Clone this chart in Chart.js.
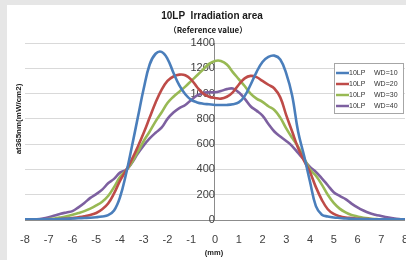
<!DOCTYPE html>
<html>
<head>
<meta charset="utf-8">
<script src="https://cdn.jsdelivr.net/npm/chart.js@4"></script>
<style>
  html, body { margin: 0; padding: 0; background: #e6e6e6; overflow: hidden; }
  #wrap { position: absolute; left: 7px; top: 5px; width: 406px; height: 255px; background: #fff; }
</style>
</head>
<body>
<div id="wrap"><canvas id="chart" width="406" height="255"></canvas></div>
<script>
// position (mm), every 0.25 mm from -8 to 8
const positions = [];
for (let i = 0; i <= 64; i++) positions.push(-8 + i * 0.25);

const seriesNames = ['10LP   WD=10', '10LP   WD=20', '10LP   WD=30', '10LP   WD=40'];
const seriesColors = ['#4a7ebb', '#be4b48', '#98b954', '#7d60a0'];

// irradiance at 365nm (mW/cm2)
const wd10 = [5, 5, 5, 5, 5, 6, 8, 10, 12, 14, 16, 18, 22, 28, 38, 75,
  180, 360, 580, 810, 1040, 1230, 1315, 1330, 1275, 1165, 1065, 995, 950, 930, 920, 915,
  910, 910, 910, 915, 930, 980, 1070, 1170, 1250, 1290, 1300, 1270, 1160, 985, 700, 510,
  305, 110, 42, 28, 20, 16, 12, 10, 8, 7, 6, 6, 5, 5, 5, 5, 5];
const wd20 = [3, 3, 3, 4, 5, 6, 8, 11, 15, 22, 30, 40, 55, 85, 130, 210,
  310, 390, 480, 580, 690, 810, 930, 1030, 1100, 1135, 1150, 1145, 1110, 1050, 1000, 975,
  965, 960, 975, 1010, 1070, 1120, 1140, 1130, 1100, 1070, 1040, 970, 830, 700, 570, 470,
  380, 260, 160, 85, 48, 30, 20, 15, 10, 8, 7, 6, 5, 4, 4, 3, 3];
const wd30 = [2, 2, 3, 5, 8, 12, 20, 30, 42, 55, 70, 90, 115, 145, 190, 260,
  340, 390, 455, 540, 625, 700, 780, 850, 925, 975, 1015, 1055, 1100, 1145, 1190, 1235,
  1258, 1258, 1230, 1170, 1115, 1060, 1000, 960, 935, 900, 870, 810, 725, 650, 580, 490,
  400, 350, 280, 200, 135, 90, 60, 40, 28, 18, 12, 8, 5, 4, 3, 2, 2];
const wd40 = [3, 4, 6, 12, 22, 35, 50, 60, 70, 100, 135, 175, 205, 240, 290, 325,
  375, 395, 450, 525, 590, 645, 690, 730, 800, 850, 885, 910, 950, 985, 1005, 1010,
  1010, 1020, 1035, 1040, 1010, 960, 900, 865, 825, 760, 700, 660, 625, 585, 530, 475,
  420, 380, 330, 275, 220, 190, 165, 130, 100, 75, 55, 42, 32, 22, 14, 8, 5];

const xTicks = [-8, -7, -6, -5, -4, -3, -2, -1, 0, 1, 2, 3, 4, 5, 6, 7, 8];
const yTicks = [0, 200, 400, 600, 800, 1000, 1200, 1400];

const allSeries = [wd10, wd20, wd30, wd40];

// titles and legend drawn by hand, like the Excel chart
const decorations = {
  id: 'decorations',
  afterDraw(chart) {
    const ctx = chart.ctx;
    ctx.save();
    ctx.fillStyle = '#1a1a1a';
    ctx.textAlign = 'center';
    ctx.textBaseline = 'middle';
    ctx.font = 'bold 10px "Liberation Sans", Arial, sans-serif';
    ctx.fillText('10LP  Irradiation area', 205, 11);
    ctx.font = 'bold 8px "Noto Sans CJK JP", "Liberation Sans", sans-serif';
    ctx.fillText('（Reference value）', 201, 25);
    ctx.font = 'bold 7.5px "Liberation Sans", Arial, sans-serif';
    ctx.fillText('(mm)', 207, 248);
    ctx.translate(12, 114);
    ctx.rotate(-Math.PI / 2);
    ctx.font = 'bold 8px "Liberation Sans", Arial, sans-serif';
    ctx.fillText('at365nm(mW/cm2)', 0, 0);
    ctx.restore();

    // legend box
    const lx = 327, ly = 58, lw = 69, lh = 50;
    ctx.save();
    ctx.fillStyle = '#fff';
    ctx.fillRect(lx, ly, lw, lh);
    ctx.strokeStyle = '#a6a6a6';
    ctx.lineWidth = 1;
    ctx.strokeRect(lx + 0.5, ly + 0.5, lw, lh);
    ctx.font = '7px "Liberation Sans", Arial, sans-serif';
    ctx.textBaseline = 'middle';
    ctx.textAlign = 'left';
    chart.data.datasets.forEach((ds, i) => {
      const y = ly + 10 + i * 11;
      ctx.strokeStyle = ds.borderColor;
      ctx.lineWidth = 2.5;
      ctx.beginPath();
      ctx.moveTo(lx + 2, y);
      ctx.lineTo(lx + 15, y);
      ctx.stroke();
      ctx.fillStyle = '#333';
      ctx.fillText('10LP', lx + 15, y);
      ctx.fillText(ds.label.split(' ').pop(), lx + 40, y);
    });
    ctx.restore();
  }
};

new Chart(document.getElementById('chart'), {
  type: 'line',
  data: {
    datasets: allSeries.map((values, i) => ({
      label: seriesNames[i],
      data: values.map((v, j) => ({ x: positions[j], y: v })),
      borderColor: seriesColors[i],
      backgroundColor: seriesColors[i],
      borderWidth: 2.6,
      pointRadius: 0,
      tension: 0.4,
      fill: false
    }))
  },
  options: {
    responsive: false,
    animation: false,
    devicePixelRatio: 1,
    layout: { padding: { left: 18, right: 8, top: 38, bottom: 0 } },
    plugins: {
      legend: { display: false },
      title: { display: false },
      tooltip: { enabled: false }
    },
    scales: {
      x: {
        type: 'linear',
        min: -8,
        max: 8,
        afterFit(scale) { scale.height = 40; },
        afterBuildTicks(scale) { scale.ticks = xTicks.map(v => ({ value: v })); },
        grid: { display: false },
        border: { display: true, color: '#8c8c8c', width: 1 },
        ticks: {
          padding: 5,
          color: '#404040',
          font: { size: 11, family: '"Liberation Sans", Arial, sans-serif' },
          maxRotation: 0,
          autoSkip: false,
          callback: v => String(v)
        }
      },
      y: {
        position: { x: 0 },
        min: 0,
        max: 1400,
        afterBuildTicks(scale) { scale.ticks = yTicks.map(v => ({ value: v })); },
        grid: { color: '#d9d9d9', lineWidth: 1, tickLength: 7 },
        border: { display: true, color: '#8c8c8c', width: 1 },
        ticks: {
          padding: 3,
          color: '#404040',
          font: { size: 11, family: '"Liberation Sans", Arial, sans-serif' },
          callback: v => String(v)
        }
      }
    }
  },
  plugins: [decorations]
});
</script>
</body>
</html>
